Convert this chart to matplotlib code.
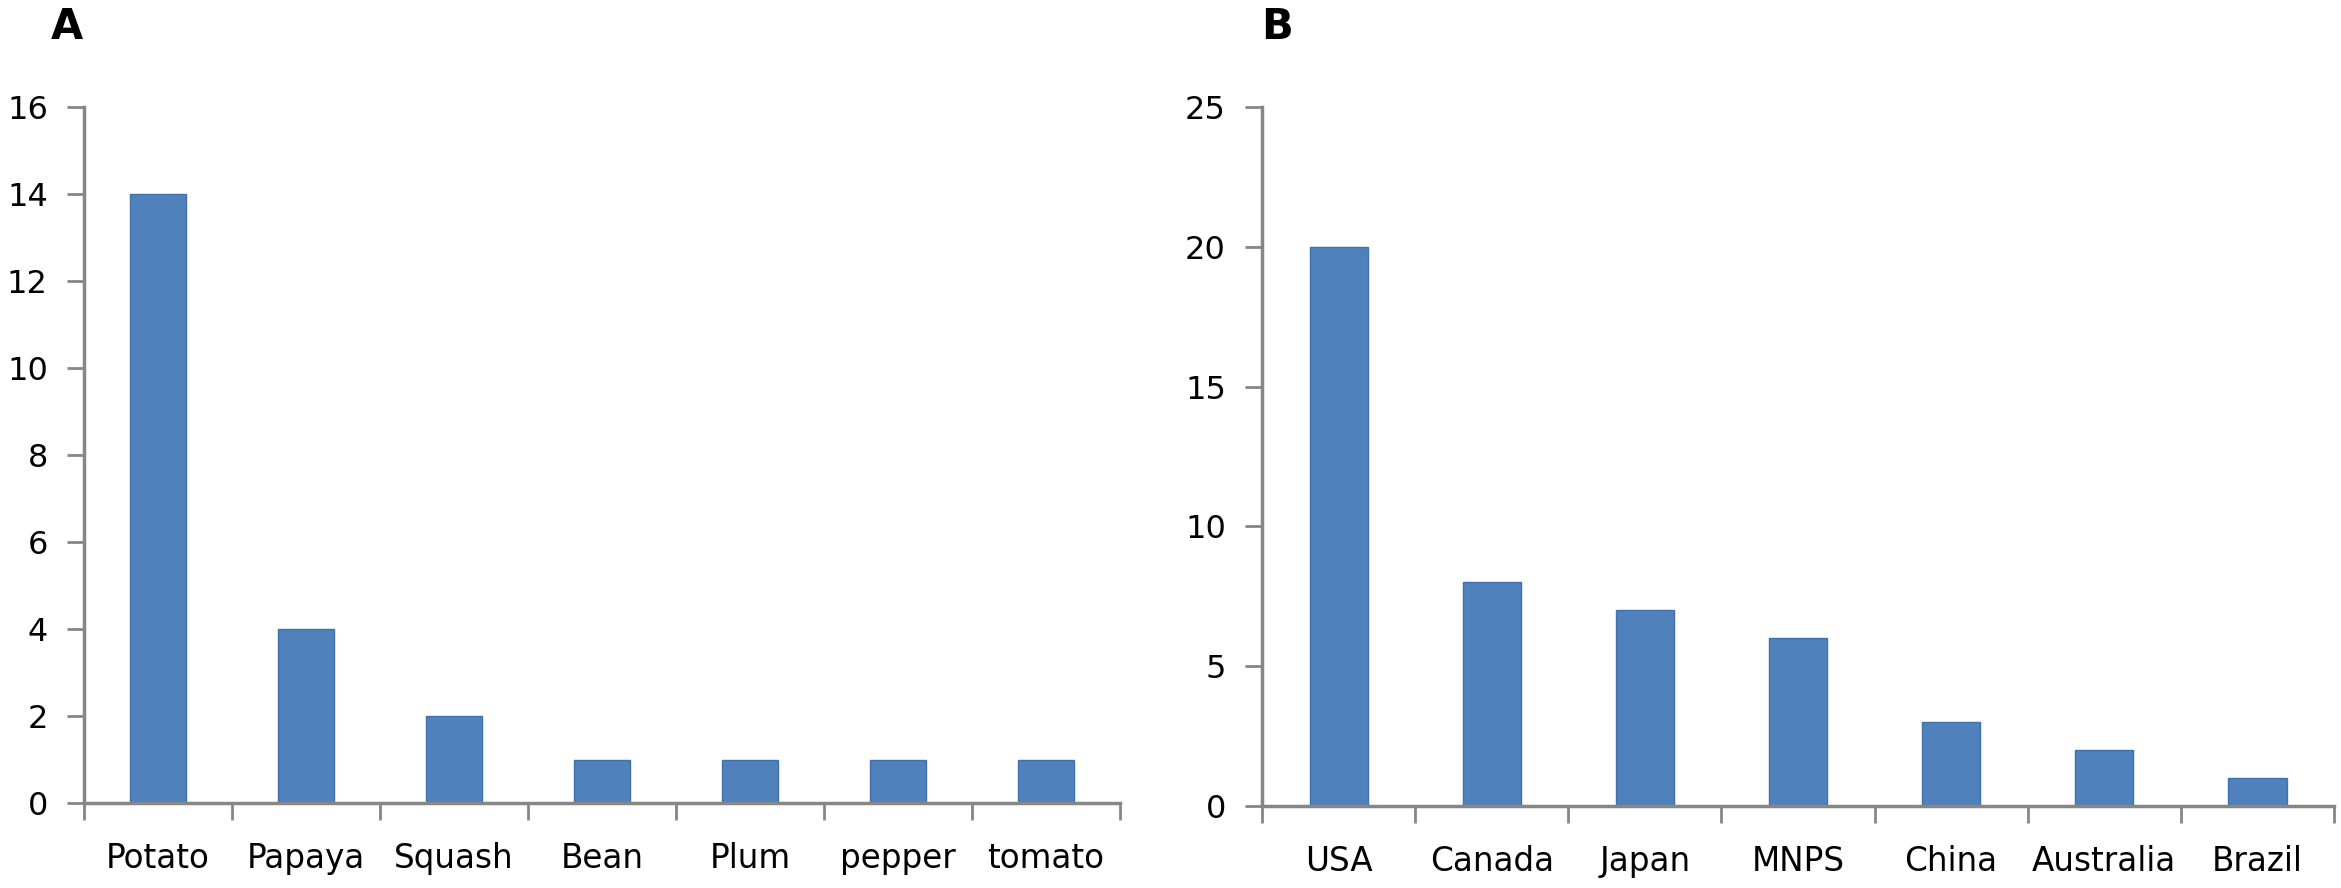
import numpy as np
import matplotlib.pyplot as plt

# Panel A - crops
crops = ["Potato", "Papaya", "Squash", "Bean", "Plum", "pepper", "tomato"]
crop_counts = [14, 4, 2, 1, 1, 1, 1]

# Panel B - countries
countries = ["USA", "Canada", "Japan", "MNPS", "China", "Australia", "Brazil"]
country_counts = [20, 8, 7, 6, 3, 2, 1]

bar_color = "#4F81BD"
axis_color = "#868686"

fig = plt.figure(figsize=(23.41, 8.88), dpi=100)
axA = fig.add_axes([0.0359, 0.0957, 0.4425, 0.7838])
axB = fig.add_axes([0.5391, 0.0923, 0.4579, 0.7872])


def style(ax, labels, values, ymax, ystep):
    x = np.arange(len(labels))
    ax.bar(x, values, width=0.38, color=bar_color, edgecolor="#3F71AD", linewidth=1)
    ax.set_xlim(-0.5, len(labels) - 0.5)
    ax.set_ylim(0, ymax)
    ax.set_yticks(np.arange(0, ymax + 1, ystep))
    # tick marks at category boundaries, labels at centres
    ax.set_xticks(np.arange(len(labels) + 1) - 0.5)
    ax.set_xticklabels([])
    ax.set_xticks(x, minor=True)
    ax.set_xticklabels(labels, minor=True)
    ax.tick_params(axis="x", which="major", direction="out", length=12, width=2, color=axis_color)
    ax.tick_params(axis="x", which="minor", length=0, pad=28, labelsize=23.5)
    ax.tick_params(axis="y", direction="out", length=12, width=2, color=axis_color,
                   labelsize=23, pad=14)
    for s in ["top", "right"]:
        ax.spines[s].set_visible(False)
    for s in ["left", "bottom"]:
        ax.spines[s].set_color(axis_color)
        ax.spines[s].set_linewidth(2.5)


style(axA, crops, crop_counts, 16, 2)
style(axB, countries, country_counts, 25, 5)

fig.text(67 / 2341, 1 - 27 / 888, "A", fontsize=30, fontweight="bold", ha="center", va="center")
fig.text(1277 / 2341, 1 - 27 / 888, "B", fontsize=30, fontweight="bold", ha="center", va="center")

fig.savefig("out.png", dpi=100)
